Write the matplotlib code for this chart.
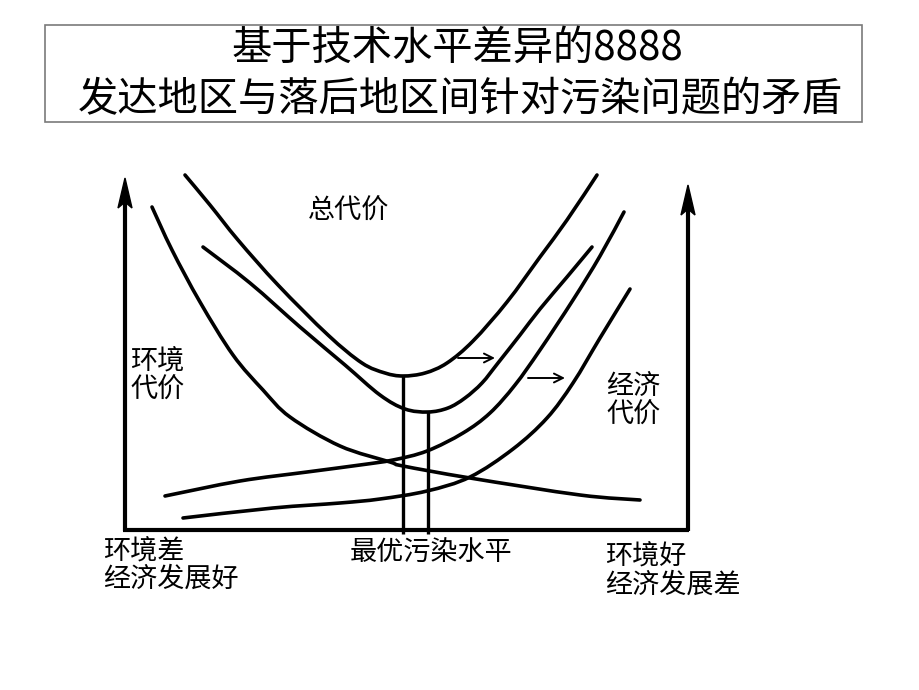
import numpy as np
import matplotlib
matplotlib.use("Agg")
import matplotlib.pyplot as plt
from matplotlib.path import Path
from matplotlib.patches import PathPatch, Polygon, Rectangle

plt.rcParams['font.family'] = ['Noto Sans CJK SC', 'DejaVu Sans']

# ---- data (schematic curves; y grows downward) ----
outer_total_x = [185, 210, 238, 278, 328, 362, 385, 403, 425, 447, 473, 507, 540, 567, 597]
outer_total_y = [175, 205, 240, 285, 335, 363, 373, 376, 373, 363, 341, 302, 257, 220, 175]

inner_total_x = [203, 250, 300, 345, 380, 405, 428, 448, 465, 482, 498, 520, 540, 567, 592]
inner_total_y = [247, 283, 327, 365, 395, 409, 412, 408, 398, 383, 363, 335, 309, 277, 247]

env_cost_x = [152, 172, 200, 233, 263, 290, 340, 390, 403, 470, 580, 640]
env_cost_y = [207, 250, 302, 355, 390, 417, 446, 462, 466, 478, 495, 500]

econ1_x = [165, 240, 307, 360, 393, 427, 463, 490, 515, 540, 573, 600, 624]
econ1_y = [496, 481, 472, 465, 460, 451, 433, 413, 385, 350, 300, 256, 212]

econ2_x = [183, 273, 340, 380, 427, 470, 513, 547, 573, 600, 630]
econ2_y = [518, 508, 503, 499, 491, 477, 449, 418, 383, 338, 289]

title_lines = ["基于技术水平差异的8888", "发达地区与落后地区间针对污染问题的矛盾"]
label_total = "总代价"
label_env = ["环境", "代价"]
label_econ = ["经济", "代价"]
label_left = ["环境差", "经济发展好"]
label_mid = "最优污染水平"
label_right = ["环境好", "经济发展差"]

# ---- figure ----
fig = plt.figure(figsize=(9.2, 6.9), dpi=100)
ax = fig.add_axes([0, 0, 1, 1])
ax.set_xlim(0, 920)
ax.set_ylim(690, 0)
ax.axis('off')


def smooth_path(xs, ys):
    p = np.column_stack([xs, ys]).astype(float)
    n = len(p)
    verts = [p[0]]
    codes = [Path.MOVETO]
    for i in range(n - 1):
        p0 = p[i - 1] if i > 0 else p[i]
        p1 = p[i]
        p2 = p[i + 1]
        p3 = p[i + 2] if i + 2 < n else p[i + 1]
        c1 = p1 + (p2 - p0) / 6.0
        c2 = p2 - (p3 - p1) / 6.0
        verts += [c1, c2, p2]
        codes += [Path.CURVE4] * 3
    return Path(verts, codes)


def draw_curve(xs, ys, lw=2.6):
    patch = PathPatch(smooth_path(xs, ys), fill=False, lw=lw, color='black',
                      capstyle='round', joinstyle='round')
    ax.add_patch(patch)


for xs, ys in [(outer_total_x, outer_total_y), (inner_total_x, inner_total_y),
               (env_cost_x, env_cost_y), (econ1_x, econ1_y), (econ2_x, econ2_y)]:
    draw_curve(xs, ys)

# vertical lines from the minima of the total-cost curves
base_y = 530
for xs, ys in [(outer_total_x, outer_total_y), (inner_total_x, inner_total_y)]:
    k = int(np.argmax(ys))
    ax.plot([xs[k], xs[k]], [ys[k], base_y + 4], color='black', lw=2.4,
            solid_capstyle='butt')

# axes frame: left and right arrows + baseline
left_x, right_x = 125, 688
ax.plot([left_x - 2, right_x + 1], [base_y, base_y], color='black', lw=3,
        solid_capstyle='butt')
for x0, tip in [(left_x, 178), (right_x, 185)]:
    ax.plot([x0, x0], [base_y + 1, tip + 20], color='black', lw=3,
            solid_capstyle='butt')
    ax.add_patch(Polygon([[x0, tip], [x0 - 7, tip + 30], [x0, tip + 24],
                          [x0 + 7, tip + 30]], closed=True, color='black'))

# shift arrows
for (x0, x1, y) in [(458, 495, 358), (528, 565, 378)]:
    ax.annotate('', xy=(x1, y), xytext=(x0, y),
                arrowprops=dict(arrowstyle='->', lw=1.4, color='black',
                                mutation_scale=16, shrinkA=0, shrinkB=0))

# title box
ax.add_patch(Rectangle((45, 25), 817, 97, fill=False, ec='#7a7a7a', lw=1.2))
ax.text(457, 48, title_lines[0], fontsize=29, ha='center', va='center')
ax.text(460, 100, title_lines[1], fontsize=29, ha='center', va='center')

fs = 19.5
ax.text(308, 211, label_total, fontsize=fs, ha='left', va='center')
ax.text(130, 362, label_env[0], fontsize=fs, ha='left', va='center')
ax.text(130, 390, label_env[1], fontsize=fs, ha='left', va='center')
ax.text(606, 386, label_econ[0], fontsize=fs, ha='left', va='center')
ax.text(606, 415, label_econ[1], fontsize=fs, ha='left', va='center')
ax.text(103, 552, label_left[0], fontsize=fs, ha='left', va='center')
ax.text(103, 579, label_left[1], fontsize=fs, ha='left', va='center')
ax.text(350, 552, label_mid, fontsize=fs, ha='left', va='center')
ax.text(605, 557, label_right[0], fontsize=fs, ha='left', va='center')
ax.text(605, 585, label_right[1], fontsize=fs, ha='left', va='center')

fig.savefig('out.png', dpi=100, facecolor='white')
